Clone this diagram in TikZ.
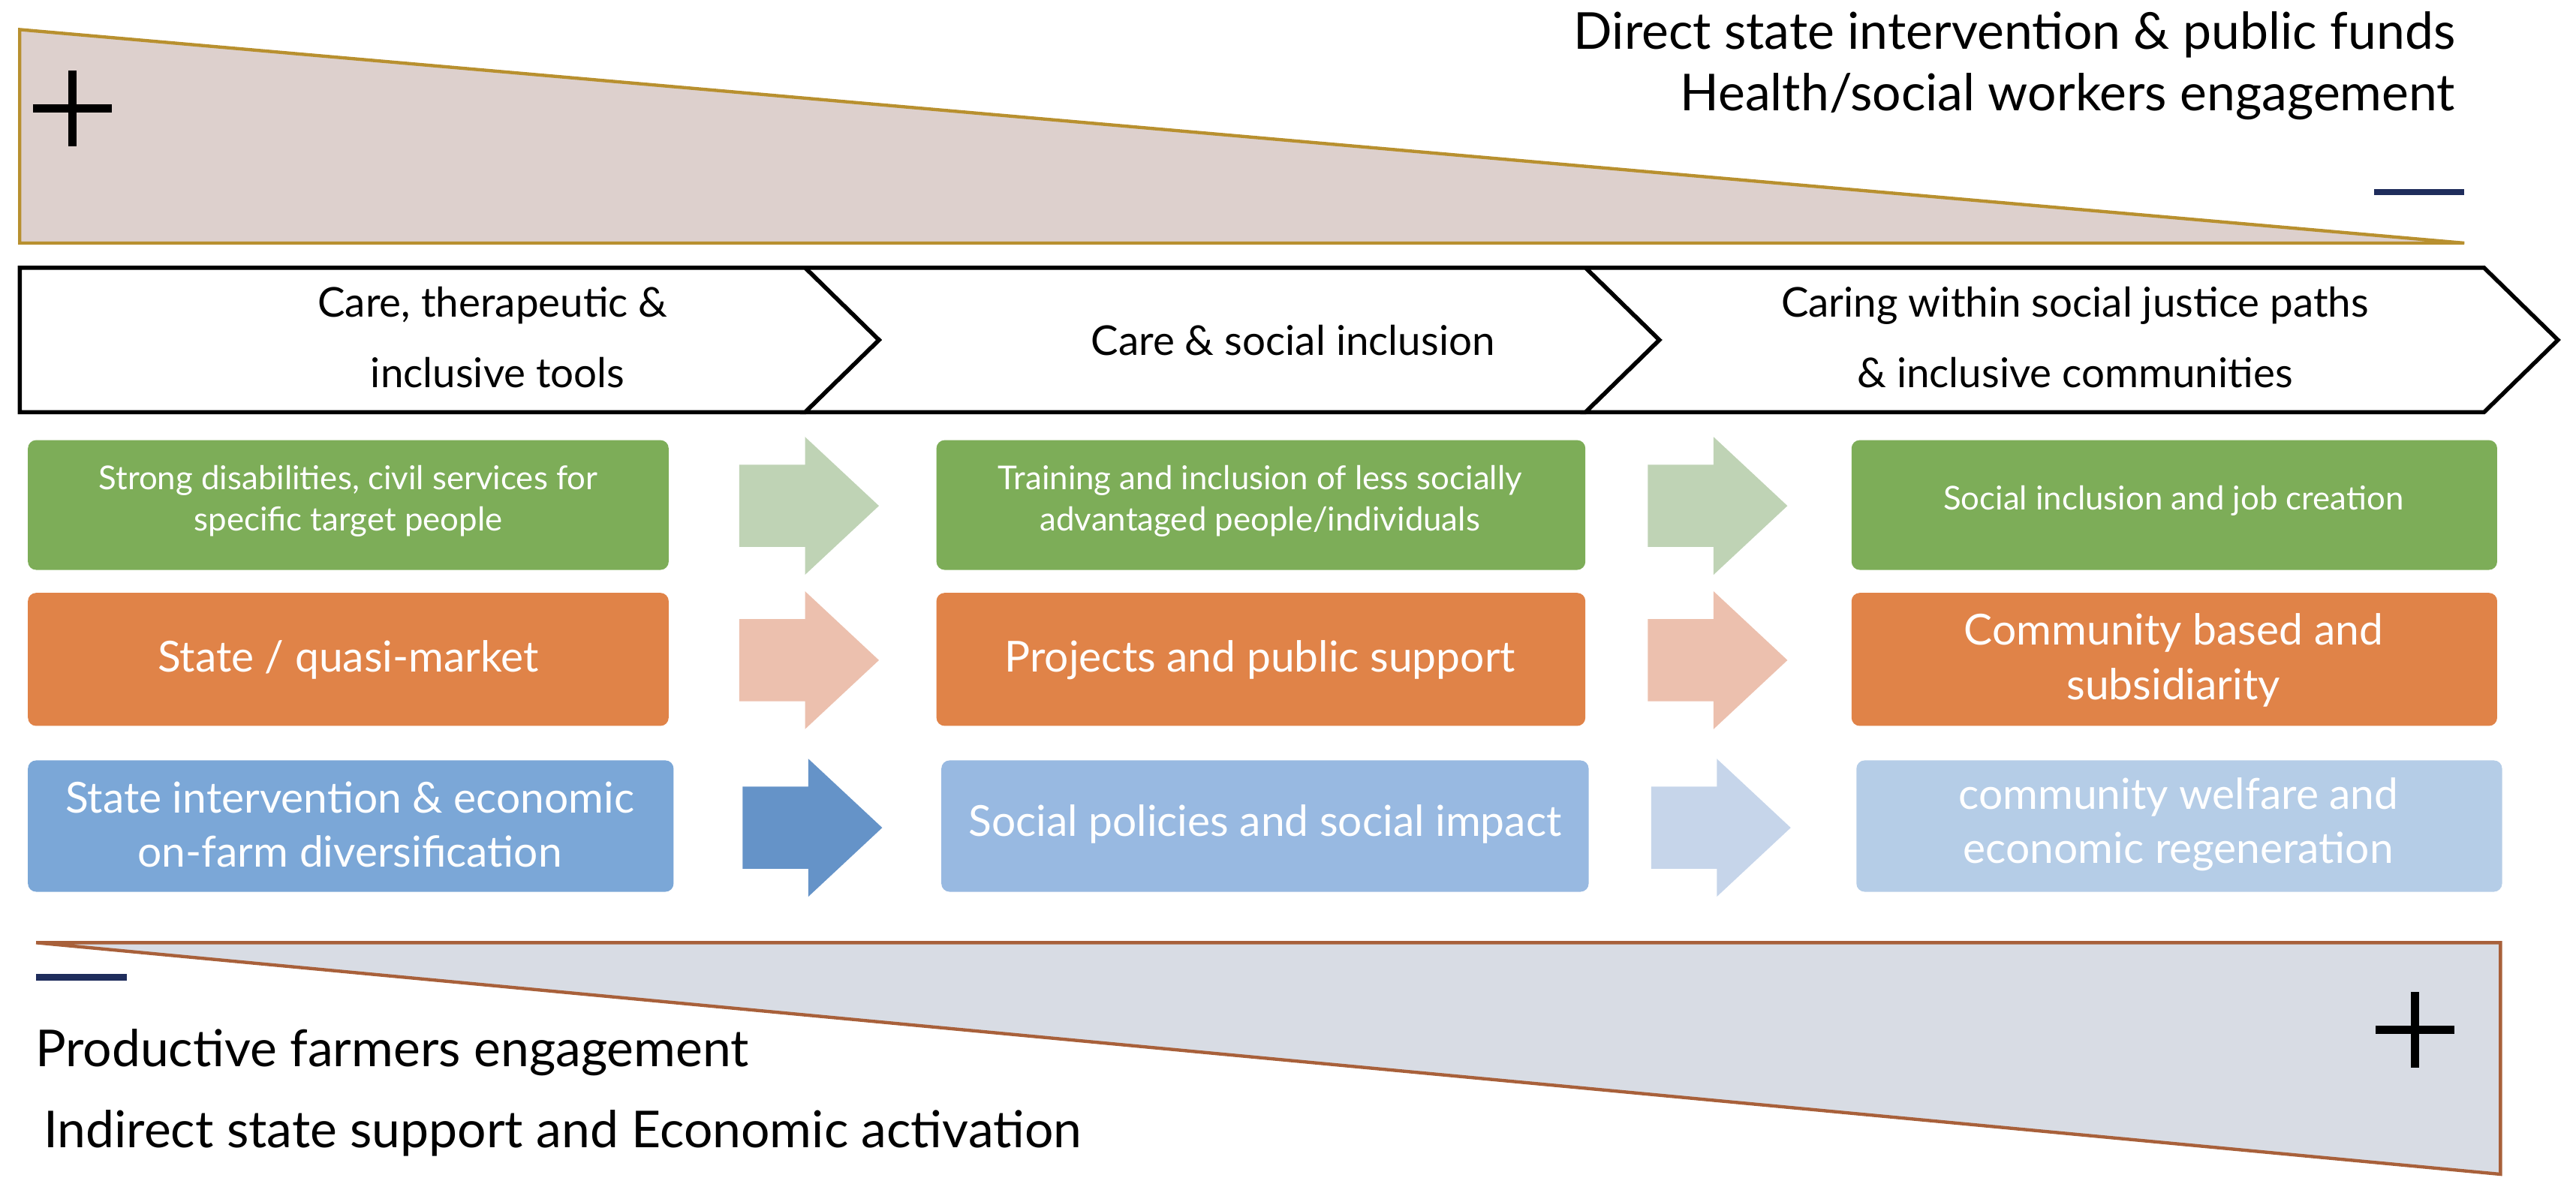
\documentclass[tikz,border=0pt]{standalone}
\usepackage{fontspec}
\setmainfont{Lato}
\begin{document}
\begin{tikzpicture}[x=1pt,y=-1pt,
  box/.style={rounded corners=5pt,draw=none},
  btxtS/.style={text=white,align=center,font=\fontsize{20}{25}\selectfont},
  btxtL/.style={text=white,align=center,font=\fontsize{26}{33}\selectfont},
  big/.style={font=\fontsize{31}{36}\selectfont},
  chev/.style={draw=black,line width=2.5pt,fill=white,line join=miter},
  ctxt/.style={font=\fontsize{25}{30}\selectfont,align=center},
  plus/.style={line width=5pt,black}]
\definecolor{gold}{HTML}{B8902F}
\definecolor{rust}{HTML}{A8603A}
\definecolor{navy}{HTML}{1F2D5C}
\definecolor{gA}{HTML}{7DAD58}\definecolor{gL}{HTML}{BFD3B5}
\definecolor{oA}{HTML}{E08348}\definecolor{oL}{HTML}{ECC0AE}
\definecolor{bA}{HTML}{7BA7D7}\definecolor{bD}{HTML}{6593C8}
\definecolor{bB}{HTML}{98B9E1}\definecolor{bL}{HTML}{C6D5EA}\definecolor{bC}{HTML}{B5CDE7}
\useasboundingbox (0,0) rectangle (1568,726.4);
% top wedge
\draw[gold,line width=2pt,fill={rgb,255:red,221;green,208;blue,205}] (12,18) -- (1500,148) -- (12,148) -- cycle;
\draw[plus] (20,66) -- (68,66) (44,43) -- (44,89);
\draw[navy,line width=4pt] (1445,117) -- (1500,117);
\node[big,anchor=east] (t1) at (1498,21) {Direct state intervention \& public funds};
\node[big,anchor=east] (t2) at (1498,59) {Health/social workers engagement};
% chevrons
\draw[chev] (965,163) -- (1512,163) -- (1557,207) -- (1512,251) -- (965,251) -- (1010,207) -- cycle;
\draw[chev] (490,163) -- (965,163) -- (1010,207) -- (965,251) -- (490,251) -- (535,207) -- cycle;
\draw[chev] (12,163) -- (490,163) -- (535,207) -- (490,251) -- (12,251) -- cycle;
\node[ctxt] (c1a) at (300,186) {Care, therapeutic \&};
\node[ctxt] (c1b) at (303,227) {inclusive tools};
\node[ctxt] (c2) at (787,207) {Care \& social inclusion};
\node[ctxt] (c3a) at (1263,186) {Caring within social justice paths};
\node[ctxt] (c3b) at (1263,227) {\& inclusive communities};
\def\arr#1#2#3{\fill[#1] (#2,#3-25) -- (#2+40,#3-25) -- (#2+40,#3-42) -- (#2+85,#3) -- (#2+40,#3+42) -- (#2+40,#3+25) -- (#2,#3+25) -- cycle;}
% green row
\fill[box,gA] (17,268) rectangle (407,347);
\fill[box,gA] (570,268) rectangle (965,347);
\fill[box,gA] (1127,268) rectangle (1520,347);
\node[btxtS] (g1) at (212,305) {Strong disabilities, civil services for\\specific target people};
\node[btxtS] (g2) at (767,305) {Training and inclusion of less socially\\advantaged people/individuals};
\node[btxtS] (g3) at (1323,305) {Social inclusion and job creation};
\arr{gL}{450}{308}\arr{gL}{1003}{308}
% orange row
\fill[box,oA] (17,361) rectangle (407,442);
\fill[box,oA] (570,361) rectangle (965,442);
\fill[box,oA] (1127,361) rectangle (1520,442);
\node[btxtL] (o1) at (212,402) {State / quasi-market};
\node[btxtL] (o2) at (767,402) {Projects and public support};
\node[btxtL] (o3) at (1323,402) {Community based and\\subsidiarity};
\arr{oL}{450}{402}\arr{oL}{1003}{402}
% blue row
\fill[box,bA] (17,463) rectangle (410,543);
\fill[box,bB] (573,463) rectangle (967,543);
\fill[box,bC] (1130,463) rectangle (1523,543);
\node[btxtL] (b1) at (213,502) {State intervention \& economic\\on-farm diversification};
\node[btxtL] (b2) at (770,502) {Social policies and social impact};
\node[btxtL] (b3) at (1326,502) {community welfare and\\economic regeneration};
\arr{bD}{452}{504}\arr{bL}{1005}{504}
% bottom wedge
\draw[rust,line width=2pt,fill={rgb,255:red,216;green,220;blue,228}] (22,574) -- (1522,574) -- (1522,715) -- cycle;
\draw[plus] (1446,627) -- (1494,627) (1470,604) -- (1470,650);
\draw[navy,line width=4pt] (22,595) -- (77,595);
\node[big,anchor=west] (t3) at (18,641) {Productive farmers engagement};
\node[big,anchor=west] (t4) at (23,690) {Indirect state support and Economic activation};
\end{tikzpicture}
\end{document}
